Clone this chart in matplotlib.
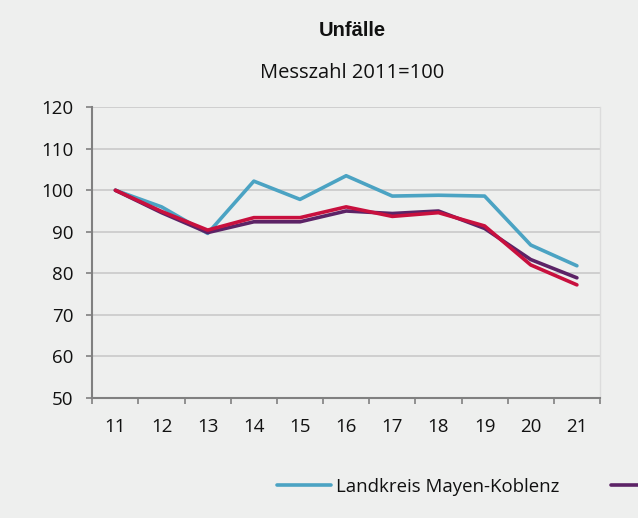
import numpy as np
import matplotlib
matplotlib.use("Agg")
import matplotlib.pyplot as plt

years = ["11", "12", "13", "14", "15", "16", "17", "18", "19", "20", "21"]
landkreis = [100, 96.0, 89.6, 102.2, 97.8, 103.5, 98.6, 98.8, 98.6, 86.8, 81.8]
rlp = [100, 94.6, 89.8, 92.4, 92.4, 95.0, 94.4, 95.0, 90.8, 83.3, 78.9]
deutschland = [100, 94.9, 90.4, 93.4, 93.4, 96.0, 93.7, 94.6, 91.4, 82.0, 77.2]
series_names = ["Landkreis Mayen-Koblenz", "Rheinland-Pfalz", "Deutschland"]

bg = "#eeefee"
plt.rcParams["font.family"] = ["Open Sans", "DejaVu Sans"]

fig = plt.figure(figsize=(6.38, 5.18), dpi=100, facecolor=bg)
ax = fig.add_axes([0.1447, 0.2322, 0.7957, 0.5607], facecolor=bg)

x = np.arange(len(years))
l1, = ax.plot(x, landkreis, color="#4ba3c3", lw=2.6, solid_capstyle="round")
l2, = ax.plot(x, rlp, color="#5c2366", lw=2.6, solid_capstyle="round")
l3, = ax.plot(x, deutschland, color="#c8103e", lw=2.6, solid_capstyle="round")

ax.set_xlim(-0.5, len(years) - 0.5)
ax.set_ylim(50, 120)
ax.set_yticks(range(50, 121, 10))
ax.set_xticks(x)
ax.set_xticklabels(years)
ax.set_xticks(np.arange(-0.5, len(years), 1), minor=True)
ax.tick_params(axis="x", which="major", length=0, pad=14.5, labelsize=13.5, colors="#111111")
ax.tick_params(axis="x", which="minor", length=4.5, width=1.2, color="#808080")
ax.tick_params(axis="y", length=4.5, width=1.2, color="#808080", labelsize=13.5,
               labelcolor="#111111", pad=9)

ax.grid(axis="y", color="#c6c6c6", lw=1.1)
ax.set_axisbelow(True)
for s in ["left", "bottom"]:
    ax.spines[s].set_color("#808080")
    ax.spines[s].set_linewidth(1.5)
ax.spines["top"].set_visible(False)
ax.spines["right"].set_color("#dcdcdc")
ax.spines["right"].set_linewidth(1.0)

fig.text(352 / 638, 1 - 36 / 518, "Unfälle", ha="center", va="baseline",
         fontsize=14.5, fontweight="bold", family=["Liberation Sans", "DejaVu Sans"],
         color="#111111")
fig.text(352 / 638, 1 - 77.7 / 518, "Messzahl 2011=100", ha="center", va="baseline",
         fontsize=14.5, color="#111111")

fig.legend([l1, l2, l3], series_names, loc="center left",
           bbox_to_anchor=(277 / 638, 1 - 487 / 518), ncol=3, frameon=False,
           borderpad=0, borderaxespad=0, handlelength=2.9, handletextpad=0.27,
           columnspacing=2.8, fontsize=13.4, labelcolor="#111111")

fig.savefig("out.png", dpi=100, facecolor=bg)
